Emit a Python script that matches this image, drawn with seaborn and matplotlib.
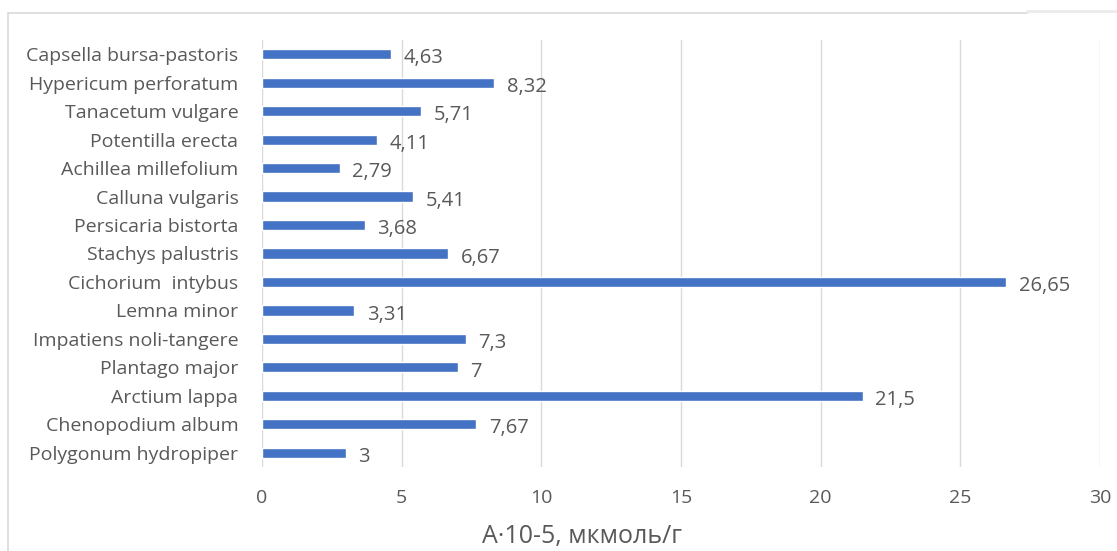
import matplotlib
matplotlib.use("Agg")
import matplotlib.pyplot as plt
import seaborn as sns
import pandas as pd
from matplotlib.lines import Line2D

species = ["Capsella bursa-pastoris", "Hypericum perforatum", "Tanacetum vulgare",
           "Potentilla erecta", "Achillea millefolium", "Calluna vulgaris",
           "Persicaria bistorta", "Stachys palustris", "Cichorium  intybus",
           "Lemna minor", "Impatiens noli-tangere", "Plantago major",
           "Arctium lappa", "Chenopodium album", "Polygonum hydropiper"]
values = [4.63, 8.32, 5.71, 4.11, 2.79, 5.41, 3.68, 6.67, 26.65, 3.31, 7.3, 7, 21.5, 7.67, 3]
value_labels = ["4,63", "8,32", "5,71", "4,11", "2,79", "5,41", "3,68", "6,67", "26,65",
                "3,31", "7,3", "7", "21,5", "7,67", "3"]
x_ticks = [0, 5, 10, 15, 20, 25, 30]
x_label = "A·10-5, мкмоль/г"

sns.set_theme(style="white")
plt.rcParams['font.family'] = ['Open Sans', 'DejaVu Sans']
text_color = "#595959"

df = pd.DataFrame({"species": species, "value": values})
fig = plt.figure(figsize=(11.17, 5.51), dpi=100)
ax = fig.add_axes([262/1117, 1-467/551, (1100-262)/1117, 427/551])
sns.barplot(data=df, y="species", x="value", orient="h", color="#4472C4",
            saturation=1, width=0.36, ax=ax, order=species)
ax.set_xlim(0, 30)
ax.set_ylim(14.5, -0.5)
ax.set_xticks(x_ticks)
ax.set_xticklabels([str(t) for t in x_ticks], fontsize=14, color=text_color)
ax.tick_params(axis="y", labelsize=14, labelcolor=text_color, length=0, pad=17)
ax.tick_params(axis="x", length=0, pad=16)
ax.set_ylabel("")
ax.set_xlabel("")
ax.grid(axis="x", color="#D9D9D9", linewidth=1)
ax.set_axisbelow(True)
for s in ["top", "right", "bottom", "left"]:
    ax.spines[s].set_visible(False)
ax.axvline(0, color="#D9D9D9", linewidth=1.2, zorder=0)
texts = ax.bar_label(ax.containers[0], labels=value_labels, padding=9, fontsize=14.5, color=text_color)
for t in texts:
    t.xyann = (9, -3)

fig.text(582/1117, 1-536/551, x_label, fontsize=18, color=text_color, ha="center", va="center")

# figure frame lines
fig.add_artist(Line2D([8/1117, 1027/1117], [1-13/551, 1-13/551], color="#D9D9D9", lw=1.2))
fig.add_artist(Line2D([8/1117, 8/1117], [0, 1-13/551], color="#D9D9D9", lw=1.2))
fig.add_artist(Line2D([1027/1117, 1], [1-11/551, 1-11/551], color="#EBEBEB", lw=2))

fig.savefig("out.png", dpi=100)
